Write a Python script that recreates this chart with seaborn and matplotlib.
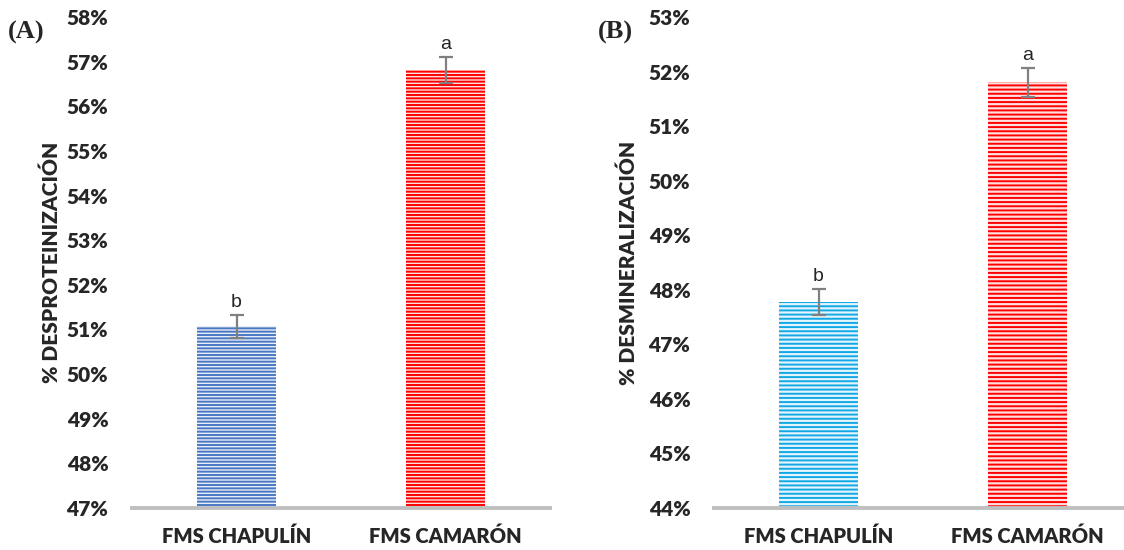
import matplotlib
matplotlib.use("Agg")
import matplotlib.pyplot as plt
import seaborn as sns
import pandas as pd
from matplotlib.colors import to_rgb
from matplotlib.ticker import PercentFormatter, MultipleLocator

# Data (percent)
categories = ["FMS CHAPULÍN", "FMS CAMARÓN"]

desprot_values = [51.07, 56.81]
desprot_errors = [0.26, 0.29]
desprot_letters = ["b", "a"]

desmin_values = [47.78, 51.80]
desmin_errors = [0.24, 0.27]
desmin_letters = ["b", "a"]

colors_a = ["#4A78C4", "#FF0000"]
colors_b = ["#12A8E6", "#FF0000"]

sns.set_theme(style="white")
plt.rcParams["font.family"] = ["Lato", "DejaVu Sans"]
plt.rcParams["hatch.linewidth"] = 1.4

fig = plt.figure(figsize=(11.24, 5.5), dpi=100)
W, H = 1124, 550
axA = fig.add_axes([132 / W, 42 / H, 418 / W, 491 / H])
axB = fig.add_axes([714 / W, 42 / H, 418 / W, 491 / H])

TEXT_WEIGHT = "heavy"


def tint(c, amount=0.12):
    r, g, b = to_rgb(c)
    return (1 - amount * (1 - r), 1 - amount * (1 - g), 1 - amount * (1 - b))


def draw_panel(ax, values, errors, letters, colors, ylim, ylabel, hatch, label_x):
    df = pd.DataFrame({"cat": categories, "val": values})
    sns.barplot(data=df, x="cat", y="val", hue="cat", palette=colors,
                width=0.38, legend=False, ax=ax, errorbar=None)
    for patch, c in zip(ax.patches, colors):
        patch.set_facecolor(tint(c))
        patch.set_edgecolor(c)
        patch.set_linewidth(0)
        patch.set_hatch(hatch)
    ax.errorbar(range(len(values)), values, yerr=errors, fmt="none",
                ecolor="#808080", elinewidth=1.6, capsize=4.7, capthick=1.6,
                zorder=3)
    for i, (v, e, t) in enumerate(zip(values, errors, letters)):
        ax.annotate(t, (i, v + e), xytext=(0, 3), textcoords="offset points",
                    ha="center", va="bottom", fontsize=14,
                    family="Liberation Sans")
    ax.set_ylim(*ylim)
    ax.set_xlim(-0.5, 1.5)
    ax.yaxis.set_major_locator(MultipleLocator(1))
    ax.yaxis.set_major_formatter(PercentFormatter(decimals=0))
    for s in ("left", "right", "top"):
        ax.spines[s].set_visible(False)
    ax.spines["bottom"].set_color("#BFBFBF")
    ax.spines["bottom"].set_linewidth(2.8)
    ax.tick_params(axis="y", length=0, pad=17, labelsize=15)
    ax.tick_params(axis="x", length=0, pad=13, labelsize=14.5)
    for lab in ax.get_yticklabels() + ax.get_xticklabels():
        lab.set_fontweight(TEXT_WEIGHT)
    ax.set_xlabel("")
    ax.set_ylabel(ylabel, fontsize=15, fontweight=TEXT_WEIGHT)
    ax.yaxis.set_label_coords(label_x, 0.5)
    ax.yaxis.label.set_va("center")
    ax.grid(False)


draw_panel(axA, desprot_values, desprot_errors, desprot_letters, colors_a,
           (47, 58), "% DESPROTEINIZACIÓN", "-----", -0.194)
draw_panel(axB, desmin_values, desmin_errors, desmin_letters, colors_b,
           (44, 53), "% DESMINERALIZACIÓN", "----", -0.206)

fig.text(8 / W, 1 - 32 / H, "(A)", family="Liberation Serif",
         fontweight="bold", fontsize=19, va="center", ha="left")
fig.text(598 / W, 1 - 32 / H, "(B)", family="Liberation Serif",
         fontweight="bold", fontsize=19, va="center", ha="left")

fig.savefig("out.png", dpi=100)
